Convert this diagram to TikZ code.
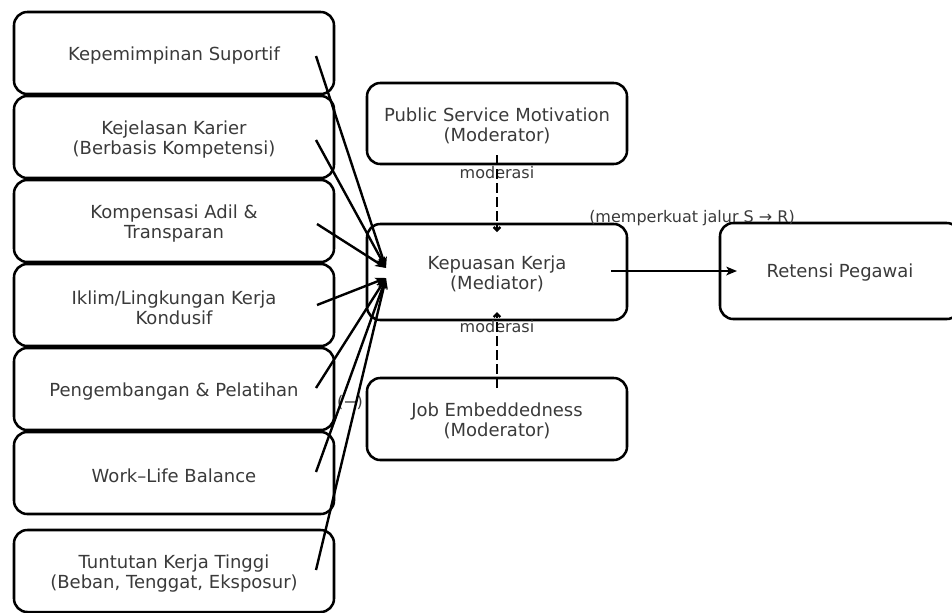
\documentclass[tikz,border=0pt]{standalone}
\usepackage{fontspec}
\setmainfont{DejaVu Sans}
\usetikzlibrary{arrows.meta}
\definecolor{txt}{HTML}{3A3A3A}
\begin{document}
\begin{tikzpicture}[x=0.75pt,y=-0.75pt,
  box/.style={draw=black,line width=1.9pt,rounded corners=10pt,inner sep=0pt},
  tx/.style={align=center,text=txt,font=\fontsize{13.5pt}{15pt}\selectfont,inner sep=0pt},
  lbox/.style={box,minimum width=320*0.75pt,minimum height=82*0.75pt},
  mbox/.style={box,minimum width=260*0.75pt},
  arr/.style={line width=1.8pt,-{Stealth[length=8pt,width=6.5pt,inset=2pt]}},
  darr/.style={line width=1.8pt,dash pattern=on 7.5pt off 3pt,-{Straight Barb[length=2.5pt,width=5pt]}},
  lbl/.style={text=txt,font=\fontsize{12pt}{14pt}\selectfont,inner sep=0pt}]
\useasboundingbox (0,0) rectangle (952,612);
\clip (0,0) rectangle (952,612);
\node[lbox] (b1) at (174,53) {};
\node[lbox] (b2) at (174,137) {};
\node[lbox] (b3) at (174,221) {};
\node[lbox] (b4) at (174,305) {};
\node[lbox] (b5) at (174,389) {};
\node[lbox] (b6) at (174,473) {};
\node[lbox] (b7) at (174,571) {};
\node[mbox,minimum height=81*0.75pt] (psm) at (497,123.5) {};
\node[mbox,minimum height=96*0.75pt] (kk) at (497,272) {};
\node[mbox,minimum height=82*0.75pt] (je) at (497,419) {};
\node[box,minimum width=240*0.75pt,minimum height=96*0.75pt] (rp) at (840,271) {};
\node[tx] (t1) at (174,55.5) {Kepemimpinan Suportif};
\node[tx] (t2) at (174,139.5) {Kejelasan Karier\\(Berbasis Kompetensi)};
\node[tx] (t3) at (174,223.5) {Kompensasi Adil \&\\Transparan};
\node[tx] (t4) at (174,307.5) {Iklim/Lingkungan Kerja\\Kondusif};
\node[tx] (t5) at (174,391.5) {Pengembangan \& Pelatihan};
\node[tx] (t6) at (174,475.5) {Work–Life Balance};
\node[tx] (t7) at (174,573.5) {Tuntutan Kerja Tinggi\\(Beban, Tenggat, Eksposur)};
\node[tx] (tpsm) at (497,125.5) {Public Service Motivation\\(Moderator)};
\node[tx] (tkk) at (497,273.5) {Kepuasan Kerja\\(Mediator)};
\node[tx] (tje) at (497,420.5) {Job Embeddedness\\(Moderator)};
\node[tx] (trp) at (840,273) {Retensi Pegawai};
% arrow endpoints
\coordinate (s1) at (316,56);
\coordinate (s2) at (316,140);
\coordinate (s3) at (317,224);
\coordinate (s4) at (317,305);
\coordinate (s5) at (316,388);
\coordinate (s6) at (316,472);
\coordinate (s7) at (316,570);
\coordinate (tu) at (386,268);
\coordinate (tl) at (386,278);
\coordinate (pa) at (497,155);
\coordinate (pb) at (497,232);
\coordinate (ja) at (497,388);
\coordinate (jb) at (497,312);
\coordinate (ka) at (611,271);
\coordinate (kb) at (737,271);
\node[lbl] (m1) at (497,173) {moderasi};
\node[lbl] (m2) at (497,327) {moderasi};
\node[lbl] (mp) at (692,218) {(memperkuat jalur S → R)};
\node[lbl] (neg) at (350,402) {(−)};
\draw[arr] (s1) -- (tu);
\draw[arr] (s2) -- (tu);
\draw[arr] (s3) -- (tu);
\draw[arr] (s4) -- (tl);
\draw[arr] (s5) -- (tl);
\draw[arr] (s6) -- (tl);
\draw[arr] (s7) -- (tl);
\draw[darr] (pa) -- (pb);
\draw[darr] (ja) -- (jb);
\draw[arr] (ka) -- (kb);
\end{tikzpicture}
\end{document}
